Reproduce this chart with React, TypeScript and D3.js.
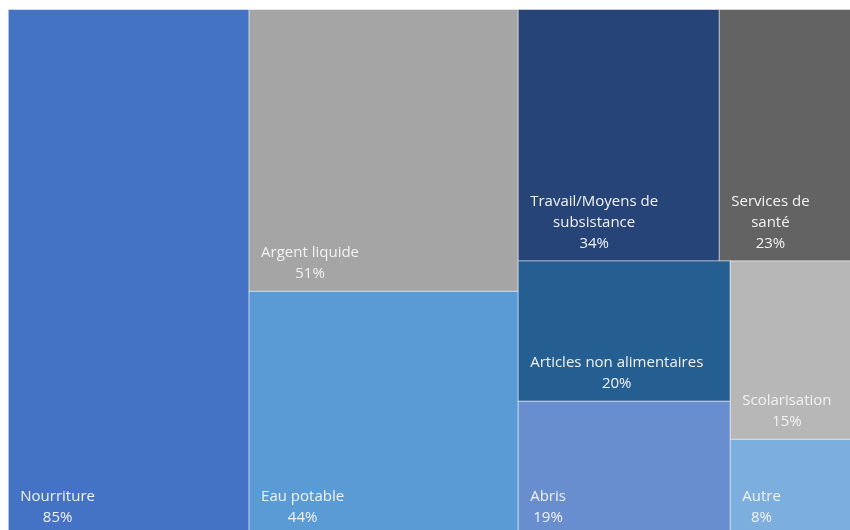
import React, { useEffect, useRef } from "react";
import * as d3 from "d3";

const categories = [
  "Nourriture",
  "Argent liquide",
  "Eau potable",
  "Travail/Moyens de subsistance",
  "Services de santé",
  "Articles non alimentaires",
  "Abris",
  "Scolarisation",
  "Autre",
];
const values = [85, 51, 44, 34, 23, 20, 19, 15, 8];
const colors = [
  "#4472C4",
  "#A5A5A5",
  "#5B9BD5",
  "#264478",
  "#636363",
  "#255E91",
  "#698ED0",
  "#B7B7B7",
  "#7CAFDD",
];
// tiling rows: number of tiles per row and whether the row is a column (stacked) or a horizontal strip
const rowSizes = [1, 2, 2, 2, 2];
const rowColumn = [true, true, false, true, true];

const FONT = "'Segoe UI', 'Open Sans', sans-serif";
const FONT_SIZE = 15;

function rowTile(parent: any, x0: number, y0: number, x1: number, y1: number) {
  const nodes = parent.children as any[];
  let remaining = parent.value as number;
  let idx = 0;
  rowSizes.forEach((n, r) => {
    const row = nodes.slice(idx, idx + n);
    idx += n;
    const sum = d3.sum(row, (d: any) => d.value);
    const w = x1 - x0;
    const h = y1 - y0;
    if (rowColumn[r]) {
      const cw = (w * sum) / remaining;
      let y = y0;
      row.forEach((d) => {
        const hh = (h * d.value) / sum;
        d.x0 = x0;
        d.x1 = x0 + cw;
        d.y0 = y;
        d.y1 = y + hh;
        y += hh;
      });
      x0 += cw;
    } else {
      const rh = (h * sum) / remaining;
      let x = x0;
      row.forEach((d) => {
        const ww = (w * d.value) / sum;
        d.x0 = x;
        d.x1 = x + ww;
        d.y0 = y0;
        d.y1 = y0 + rh;
        x += ww;
      });
      y0 += rh;
    }
    remaining -= sum;
  });
}

export default function App() {
  const ref = useRef<SVGSVGElement | null>(null);

  useEffect(() => {
    const svg = d3.select(ref.current);
    svg.selectAll("*").remove();

    const data = categories.map((c, i) => ({ name: c, value: values[i], color: colors[i] }));
    const root = d3
      .hierarchy<any>({ children: data })
      .sum((d: any) => d.value || 0)
      .sort((a, b) => (b.value || 0) - (a.value || 0));

    d3.treemap<any>().tile(rowTile as any).size([847, 525]).round(false)(root);

    const g = svg.append("g").attr("transform", "translate(8.3,9.5)");

    const leaves = root.leaves() as any[];
    g.selectAll("rect")
      .data(leaves)
      .join("rect")
      .attr("x", (d) => d.x0)
      .attr("y", (d) => d.y0)
      .attr("width", (d) => d.x1 - d.x0)
      .attr("height", (d) => d.y1 - d.y0)
      .attr("fill", (d) => d.data.color)
      .attr("stroke", "rgba(255,255,255,0.45)")
      .attr("stroke-width", 1);

    const canvas = document.createElement("canvas");
    const ctx = canvas.getContext("2d")!;
    ctx.font = `${FONT_SIZE}px ${FONT}`;
    const measure = (s: string) => ctx.measureText(s).width;

    const PAD_X = 12;
    const PAD_B = 13;
    const LH = 21;

    leaves.forEach((d) => {
      const maxW = d.x1 - d.x0 - 2 * PAD_X;
      const words = (d.data.name as string).split(" ");
      const lines: string[] = [];
      let cur = "";
      words.forEach((w) => {
        const t = cur ? cur + " " + w : w;
        if (cur && measure(t) > maxW) {
          lines.push(cur);
          cur = w;
        } else cur = t;
      });
      if (cur) lines.push(cur);
      lines.push(d.data.value + "%");
      const blockW = d3.max(lines, (l) => measure(l)) || 0;
      const cx = d.x0 + PAD_X + blockW / 2;
      const lastY = d.y1 - PAD_B;
      lines.forEach((l, i) => {
        g.append("text")
          .attr("x", cx)
          .attr("y", lastY - (lines.length - 1 - i) * LH)
          .attr("text-anchor", "middle")
          .attr("font-family", FONT)
          .attr("font-size", FONT_SIZE)
          .attr("fill", "#F2F2F2")
          .text(l);
      });
    });
  }, []);

  return (
    <svg
      ref={ref}
      width={850}
      height={530}
      style={{ display: "block", position: "fixed", left: 0, top: 0 }}
    />
  );
}
